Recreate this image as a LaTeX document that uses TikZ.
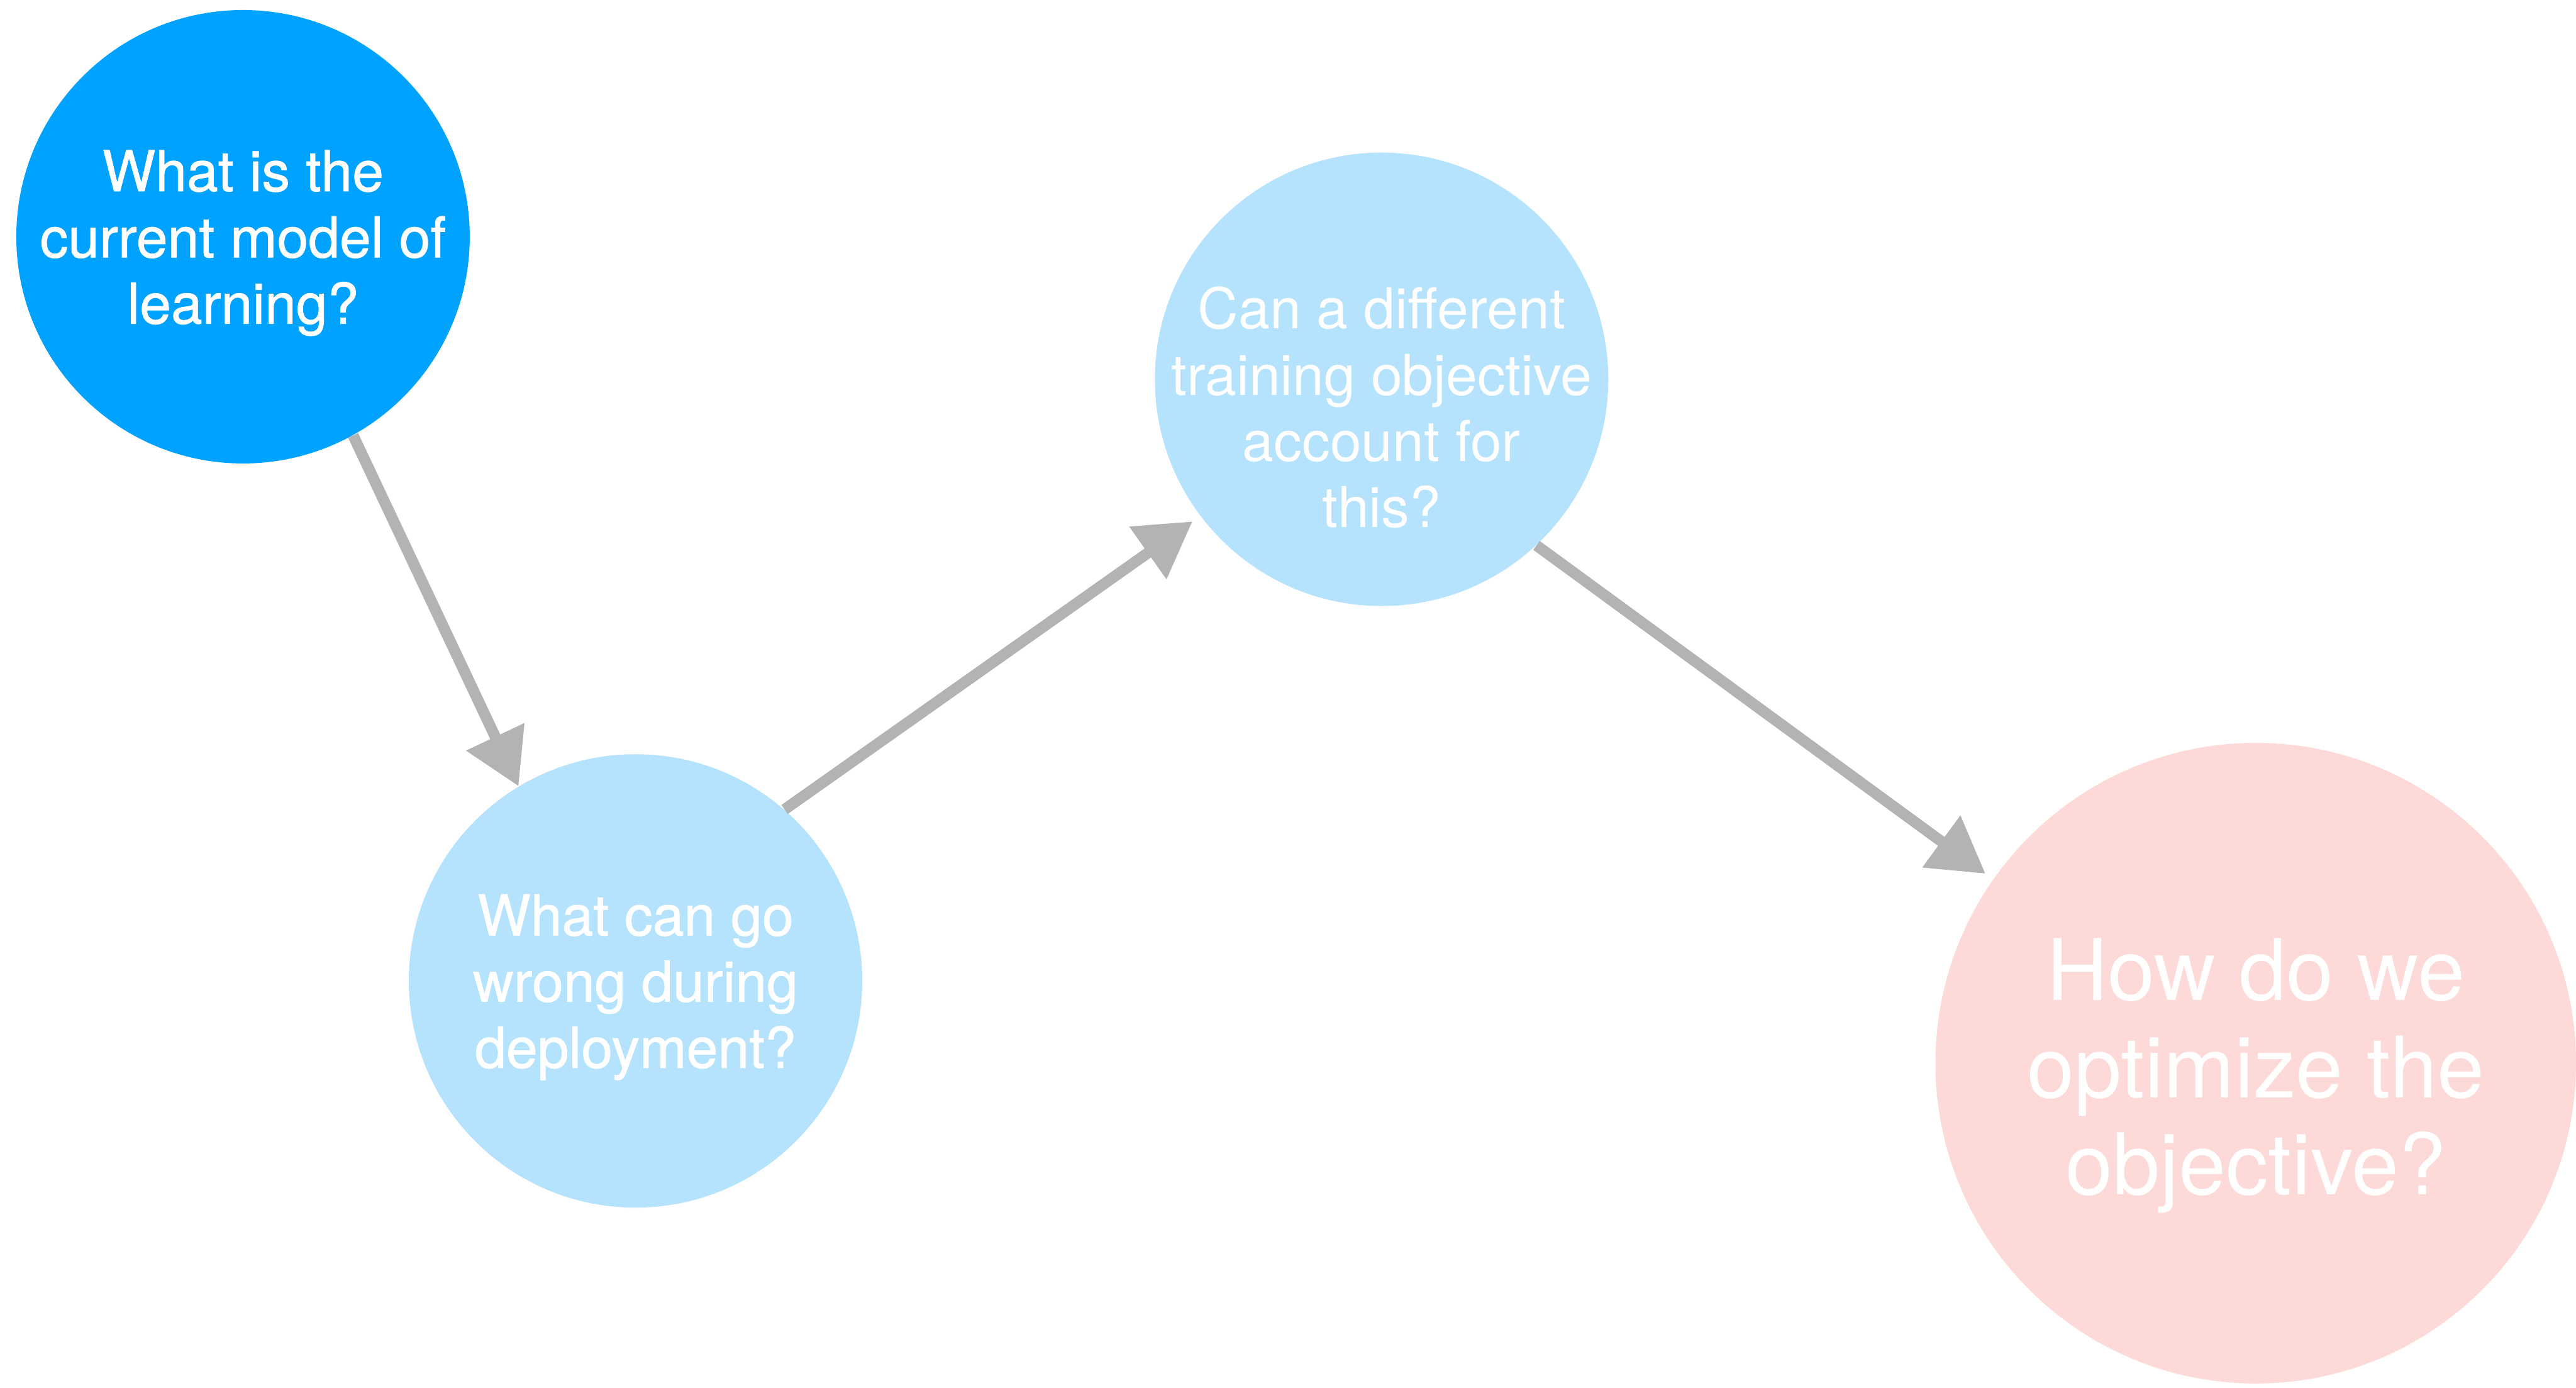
\documentclass[tikz,border=0pt]{standalone}
\usepackage{fontspec}
\setmainfont{TeX Gyre Heros}
\newfontfamily\medfont[FakeBold=1.0]{TeX Gyre Heros}
\usetikzlibrary{arrows.meta}
\definecolor{qblue}{HTML}{00A2FF}
\definecolor{qlight}{HTML}{B5E3FE}
\definecolor{qpink}{HTML}{FDD9D8}
\definecolor{qgray}{HTML}{B3B3B3}

\begin{document}
\begin{tikzpicture} [scale = 1,
  q/.style = {circle, inner sep=0pt},
  qsmall/.style = {q, minimum size=7.22cm},
  qbig/.style = {q, minimum size=10.2cm, fill=qpink},
  qtext/.style = {inner sep=0pt, text=white, align=center, font=\fontsize{25.5}{30}\selectfont},
  qmed/.style = {qtext, font=\medfont\fontsize{25.5}{30}\selectfont},
  qlarge/.style = {qtext, font=\fontsize{38.5}{44}\selectfont},
  link/.style = {draw=qgray, line width=5pt, -{Triangle[length=0.87cm, width=0.98cm]}}]
\useasboundingbox (0.0, 0.0) rectangle (41.02, 22.10);
\node[qsmall, fill=qblue] (q1) at (3.87, 18.33){};
\node[qmed] (q1text) at (3.87, 18.23){What is the\\current model of\\learning?};
\node[qsmall, fill=qlight] (q2) at (10.12, 6.48){};
\node[qmed] (q2text) at (10.12, 6.38){What can go\\wrong during\\deployment?};
\node[qsmall, fill=qlight] (q3) at (22.00, 16.06){};
\node[qtext] (q3text) at (22.00, 15.61){Can a different\\training objective\\account for\\this?};
\node[qbig] (q4) at (35.92, 5.17){};
\node[qlarge] (q4text) at (35.92, 4.97){How do we\\optimize the\\objective?};
\draw[link] (q1.-61) -- (q2.121);
\draw[link, shorten >=0.15cm] (q2.49) -- (q3.217);
\draw[link, shorten >=0.15cm] (q3.-47) -- (q4.145);
\end{tikzpicture}
\end{document}
